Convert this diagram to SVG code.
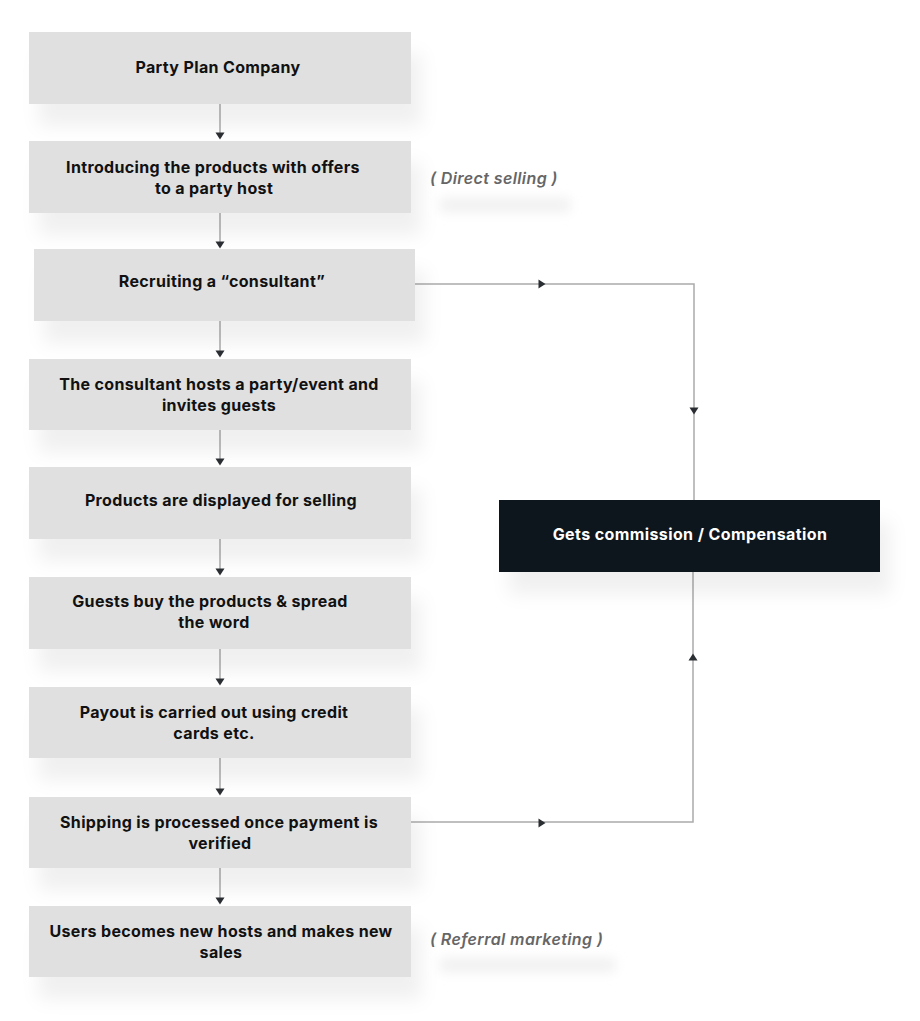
<svg xmlns="http://www.w3.org/2000/svg" width="920" height="1021" viewBox="0 0 920 1021">
<style>
.box{fill:#e0e0e0}
.dark{fill:#0f121a}
.t{font-family:Inter,"Liberation Sans",sans-serif;font-weight:700;font-size:16px;letter-spacing:0.35px;fill:#111;text-anchor:middle}
.tw{font-family:Inter,"Liberation Sans",sans-serif;font-weight:700;font-size:16px;letter-spacing:0.4px;fill:#fff;text-anchor:middle}
.lbl{font-family:Inter,"Liberation Sans",sans-serif;font-style:italic;font-weight:600;font-size:16px;letter-spacing:0.4px;fill:#666}
.ln{fill:none;stroke:#aaa;stroke-width:1.5}
.ah{fill:#2a2e33}
</style>
<defs>
<filter id="sh" x="-20%" y="-50%" width="150%" height="250%">
<feDropShadow dx="10" dy="22" stdDeviation="9" flood-color="#000" flood-opacity="0.06"/>
</filter>
<filter id="bl" x="-20%" y="-100%" width="140%" height="300%"><feGaussianBlur stdDeviation="6"/></filter>
<path id="ahd" d="M-4.5,-3.5 L4.5,-3.5 L0,3.5 Z"/>
</defs>

<g id="label-shadows">
<rect x="440" y="198" width="130" height="14" fill="#f0f0f0" filter="url(#bl)"/>
<rect x="440" y="958" width="175" height="14" fill="#f0f0f0" filter="url(#bl)"/>
</g>

<g id="connectors">
<line class="ln" x1="220" y1="104" x2="220" y2="137"/>
<line class="ln" x1="220" y1="213" x2="220" y2="245"/>
<line class="ln" x1="220" y1="321" x2="220" y2="355"/>
<line class="ln" x1="220" y1="430" x2="220" y2="463"/>
<line class="ln" x1="220" y1="539" x2="220" y2="573"/>
<line class="ln" x1="220" y1="649" x2="220" y2="683"/>
<line class="ln" x1="220" y1="758" x2="220" y2="793"/>
<line class="ln" x1="220" y1="868" x2="220" y2="902"/>
<polyline class="ln" points="415,284 694,284 694,500"/>
<polyline class="ln" points="411,822 693,822 693,572"/>
<use href="#ahd" class="ah" transform="translate(220,136)"/>
<use href="#ahd" class="ah" transform="translate(220,245)"/>
<use href="#ahd" class="ah" transform="translate(220,354)"/>
<use href="#ahd" class="ah" transform="translate(220,462)"/>
<use href="#ahd" class="ah" transform="translate(220,572)"/>
<use href="#ahd" class="ah" transform="translate(220,682)"/>
<use href="#ahd" class="ah" transform="translate(220,792)"/>
<use href="#ahd" class="ah" transform="translate(220,901)"/>
<use href="#ahd" class="ah" transform="translate(542,284) rotate(-90)"/>
<use href="#ahd" class="ah" transform="translate(694,411)"/>
<use href="#ahd" class="ah" transform="translate(542,823) rotate(-90)"/>
<use href="#ahd" class="ah" transform="translate(693,657) rotate(180)"/>
</g>

<g id="n1"><rect class="box" x="29" y="32" width="382" height="72" filter="url(#sh)"/><text class="t" x="218" y="73">Party Plan Company</text></g>
<g id="n2"><rect class="box" x="29" y="141" width="382" height="72" filter="url(#sh)"/><text class="t" x="213" y="173">Introducing the products with offers</text><text class="t" x="214" y="194">to a party host</text></g>
<g id="n3"><rect class="box" x="34" y="249" width="381" height="72" filter="url(#sh)"/><text class="t" x="222" y="287">Recruiting a “consultant”</text></g>
<g id="n4"><rect class="box" x="29" y="359" width="382" height="71" filter="url(#sh)"/><text class="t" x="219" y="390">The consultant hosts a party/event and</text><text class="t" x="219" y="411">invites guests</text></g>
<g id="n5"><rect class="box" x="29" y="467" width="382" height="72" filter="url(#sh)"/><text class="t" x="221" y="506">Products are displayed for selling</text></g>
<g id="n6"><rect class="box" x="29" y="577" width="382" height="72" filter="url(#sh)"/><text class="t" x="210" y="607">Guests buy the products &amp; spread</text><text class="t" x="214" y="628">the word</text></g>
<g id="n7"><rect class="box" x="29" y="687" width="382" height="71" filter="url(#sh)"/><text class="t" x="214" y="718">Payout is carried out using credit</text><text class="t" x="214" y="739">cards etc.</text></g>
<g id="n8"><rect class="box" x="29" y="797" width="382" height="71" filter="url(#sh)"/><text class="t" x="219" y="828">Shipping is processed once payment is</text><text class="t" x="220" y="849">verified</text></g>
<g id="n9"><rect class="box" x="29" y="906" width="382" height="71" filter="url(#sh)"/><text class="t" x="221" y="937">Users becomes new hosts and makes new</text><text class="t" x="221" y="958">sales</text></g>
<g id="n10"><rect class="dark" x="499" y="500" width="381" height="72" filter="url(#sh)"/><text class="tw" x="690" y="540">Gets commission / Compensation</text></g>

<g id="labels">
<text class="lbl" x="430" y="184">( Direct selling )</text>
<text class="lbl" x="430" y="945">( Referral marketing )</text>
</g>
</svg>
